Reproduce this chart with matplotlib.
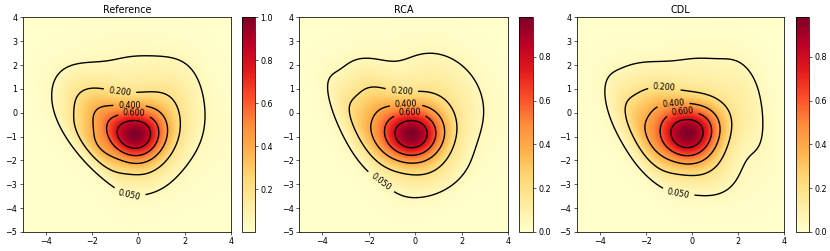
import numpy as np
import matplotlib
matplotlib.use('Agg')
import matplotlib.pyplot as plt

# ---- data: Gaussian-mixture components describing each density panel ----
titles = ["Reference", "RCA", "CDL"]

ref_mx  = [-0.054, -1.320, 0.454, 0.788, -1.847]
ref_my  = [-0.879, -0.506, 0.216, -0.693, -1.512]
ref_sx  = [0.836, 1.166, 1.626, 0.986, 0.700]
ref_sy  = [0.752, 1.162, 1.591, 1.543, 0.774]
ref_rho = [0.025, -0.536, -0.259, 0.494, -0.810]
ref_w   = [0.6084, 0.3804, 0.1180, 0.1268, 0.1337]

rca_mx  = [-0.048, -1.610, 1.017, 0.751, -2.422]
rca_my  = [-0.937, -0.130, 0.571, -2.685, -0.504]
rca_sx  = [0.936, 0.973, 1.343, 1.048, 0.905]
rca_sy  = [0.837, 1.251, 1.364, 0.721, 1.276]
rca_rho = [0.021, -0.366, -0.189, 0.401, -0.851]
rca_w   = [0.7978, 0.2692, 0.1257, 0.0724, 0.0756]

cdl_mx  = [0.100, 0.603, 2.516, -0.781, -2.132]
cdl_my  = [-0.762, 1.419, -0.107, -0.733, -0.980]
cdl_sx  = [0.964, 1.384, 0.700, 1.323, 0.809]
cdl_sy  = [0.828, 0.939, 1.578, 1.285, 1.232]
cdl_rho = [0.219, -0.138, -0.496, -0.506, -0.806]
cdl_w   = [0.9446, 0.1182, 0.0940, 0.7793, 0.1784]

peak_values = [1.0, 0.98, 0.98]
contour_levels = [0.05, 0.2, 0.4, 0.6, 0.8]
labelled_levels = [0.05, 0.2, 0.4, 0.6]
label_pos = [
    [(-0.38, -3.38), (-0.79, 0.95), (-0.38, 0.36), (-0.18, -0.05)],
    [(-1.52, -2.96), (-0.58, 0.95), (-0.40, 0.39), (-0.23, -0.05)],
    [(-0.60, -3.41), (-1.20, 1.02), (-0.81, 0.36), (-0.41, -0.03)],
]
xticks = [-4, -2, 0, 2, 4]
yticks = [-5, -4, -3, -2, -1, 0, 1, 2, 3, 4]

components = [
    (ref_mx, ref_my, ref_sx, ref_sy, ref_rho, ref_w),
    (rca_mx, rca_my, rca_sx, rca_sy, rca_rho, rca_w),
    (cdl_mx, cdl_my, cdl_sx, cdl_sy, cdl_rho, cdl_w),
]


def mixture(X, Y, mx, my, sx, sy, rho, w):
    Z = np.zeros_like(X)
    for a, b, s, t, r, c in zip(mx, my, sx, sy, rho, w):
        dx = (X - a) / s
        dy = (Y - b) / t
        q = (dx * dx - 2 * r * dx * dy + dy * dy) / (2 * (1 - r * r))
        Z += c * np.exp(-q)
    return Z


plt.rcParams["axes.linewidth"] = 1.0
plt.rcParams["xtick.labelsize"] = 10.5
plt.rcParams["ytick.labelsize"] = 10.5

xs = np.linspace(-5, 4, 360)
ys = np.linspace(-5, 4, 360)
XX, YY = np.meshgrid(xs, ys)

DPI = 830 / 15.0
fig = plt.figure(figsize=(15.0, 251 / DPI), dpi=DPI)

ax_pos = [(0.02735, 0.2510), (0.3606, 0.2514), (0.6948, 0.2501)]
cb_pos = [(0.2912, 0.0160), (0.6257, 0.0165), (0.9587, 0.0165)]
bottom, height = 0.0757, 0.8554

for i in range(3):
    Z = mixture(XX, YY, *components[i])
    Z = Z / Z.max() * peak_values[i]
    ax = fig.add_axes([ax_pos[i][0], bottom, ax_pos[i][1], height])
    kw = {} if i == 0 else {"vmin": 0.0}
    im = ax.imshow(Z, extent=[-5, 4, -5, 4], origin="lower", cmap="YlOrRd",
                   aspect="auto", interpolation="bilinear", **kw)
    cs = ax.contour(XX, YY, Z, levels=contour_levels, colors="k", linewidths=1.8)
    ax.clabel(cs, levels=labelled_levels, inline=True, fmt="%.3f",
              fontsize=10.5, manual=label_pos[i])
    ax.set_xlim(-5, 4)
    ax.set_ylim(-5, 4)
    ax.set_xticks(xticks)
    ax.set_yticks(yticks)
    ax.set_title(titles[i], fontsize=12.5)
    cax = fig.add_axes([cb_pos[i][0], bottom, cb_pos[i][1], height])
    cb = fig.colorbar(im, cax=cax)
    cb.outline.set_linewidth(1.0)

fig.savefig("out.png", dpi=DPI)
